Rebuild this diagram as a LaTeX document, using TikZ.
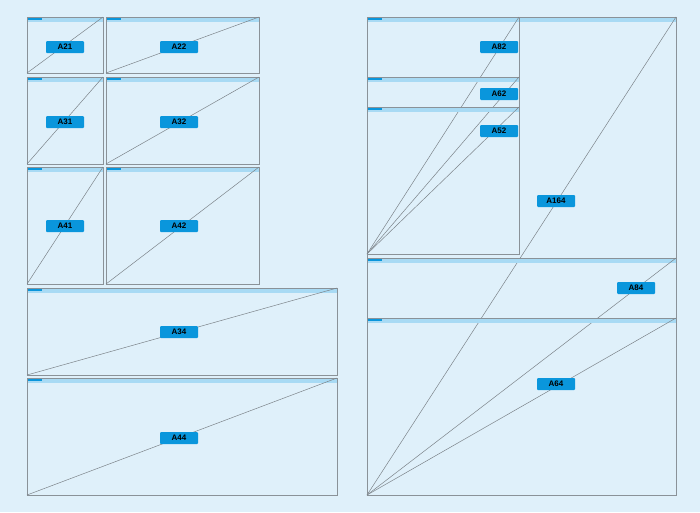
\documentclass[tikz,border=0pt]{standalone}
\usepackage{fontspec}
\setmainfont{Liberation Sans}
\definecolor{bg}{HTML}{DFF0FA}
\definecolor{strip}{HTML}{A8DAF4}
\definecolor{dark}{HTML}{0A96DC}
\definecolor{edge}{HTML}{8A9298}
\tikzset{
 frame/.style={draw=edge,line width=0.9pt},
 diag/.style={draw=edge!90!black,line width=0.5pt},
 lab/.style={fill=dark,text=black,font=\bfseries\fontsize{8}{9}\selectfont,inner xsep=5pt,inner ysep=2pt,minimum width=38pt,minimum height=12pt,rounded corners=1pt}
}
\newcommand\mybox[8]{%
 \fill[strip] (#2,#3) rectangle (#4,#3+5);
 \fill[dark] (#2,#3) rectangle (#2+15,#3+3);
 \draw[frame] (#2,#3) rectangle (#4,#5);
 \coordinate (#1bl) at (#2,#5);
 \coordinate (#1tr) at (#4,#3);
 \draw[diag] (#1bl) -- (#1tr);
 \node[lab] (#1) at (#7,#8) {#6};
}
\begin{document}
\begin{tikzpicture}[x=1pt,y=-1pt]
\fill[bg] (0,0) rectangle (700,512);
\useasboundingbox (0,0) rectangle (700,512);
\mybox{a21}{27}{17}{103}{73}{A21}{65}{47}
\mybox{a22}{106}{17}{259}{73}{A22}{179}{47}
\mybox{a31}{27}{77}{103}{164}{A31}{65}{122}
\mybox{a32}{106}{77}{259}{164}{A32}{179}{122}
\mybox{a41}{27}{167}{103}{284}{A41}{65}{226}
\mybox{a42}{106}{167}{259}{284}{A42}{179}{226}
\mybox{a34}{27}{288}{337}{375}{A34}{179}{332}
\mybox{a44}{27}{378}{337}{495}{A44}{179}{438}
\mybox{a164}{367}{17}{676}{495}{A164}{556}{201}
\mybox{a84}{367}{258}{676}{495}{A84}{636}{288}
\mybox{a64}{367}{318}{676}{495}{A64}{556}{384}
\mybox{a82}{367}{17}{519}{254}{A82}{499}{47}
\mybox{a62}{367}{77}{519}{254}{A62}{499}{94}
\mybox{a52}{367}{107}{519}{254}{A52}{499}{131}
\end{tikzpicture}
\end{document}
